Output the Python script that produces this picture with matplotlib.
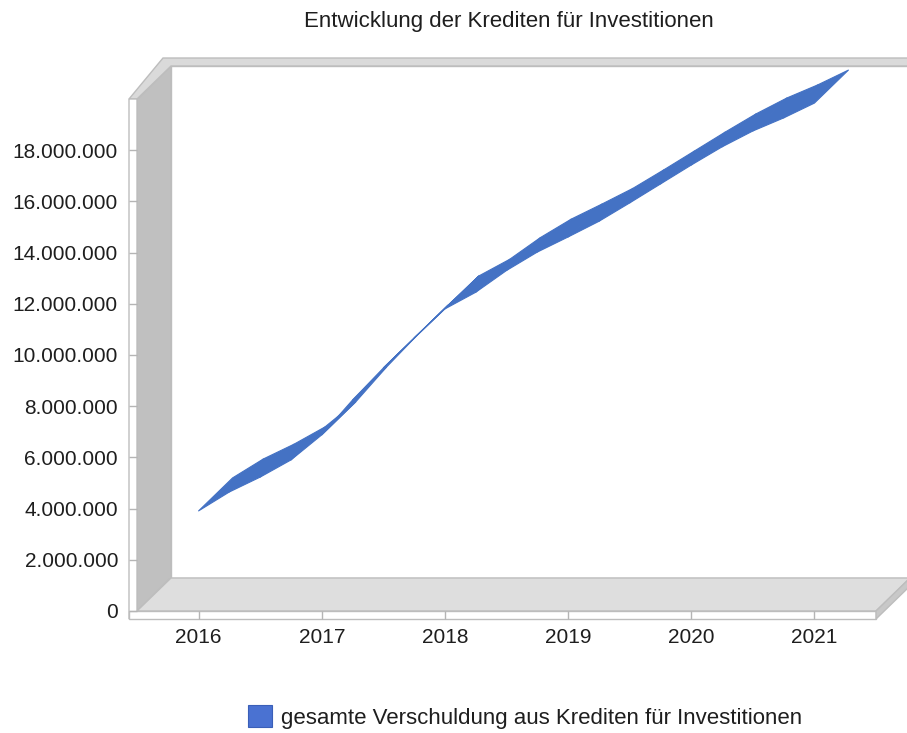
import matplotlib
matplotlib.use("Agg")
import matplotlib.pyplot as plt
from matplotlib.patches import Polygon, Patch
from matplotlib.collections import PolyCollection

# ---------------- data ----------------
title = "Entwicklung der Krediten für Investitionen"
series_name = "gesamte Verschuldung aus Krediten für Investitionen"
years = [2016, 2017, 2018, 2019, 2020, 2021]
time = [2016.0, 2016.25, 2016.5, 2016.75, 2017.0, 2017.25, 2017.5, 2017.75,
        2018.0, 2018.25, 2018.5, 2018.75, 2019.0, 2019.25, 2019.5, 2019.75,
        2020.0, 2020.25, 2020.5, 2020.75, 2021.0]
values = [3.91e6, 4.65e6, 5.23e6, 5.90e6, 6.88e6, 8.24e6, 9.49e6, 10.66e6,
          11.80e6, 12.45e6, 13.30e6, 14.02e6, 14.61e6, 15.22e6, 15.94e6, 16.68e6,
          17.42e6, 18.13e6, 18.75e6, 19.26e6, 19.84e6]
y_ticks = [0, 2e6, 4e6, 6e6, 8e6, 10e6, 12e6, 14e6, 16e6, 18e6]
y_max = 20e6

def de_fmt(v):
    return f"{int(round(v)):,}".replace(",", ".")

# ---------------- figure ----------------
plt.rcParams['font.family'] = ['Liberation Sans', 'DejaVu Sans']
W, H = 907, 733
fig = plt.figure(figsize=(W / 100, H / 100), dpi=100)
fig.patch.set_facecolor('white')

L, R, B, T = 137, 876, 611, 99     # front plane in pixels
DX, DY = 34, 33                    # depth offset in pixels
ax = fig.add_axes([L / W, 1 - B / H, (R - L) / W, (B - T) / H])
ax.set_xlim(years[0] - 0.5, years[-1] + 0.5)
ax.set_ylim(0, y_max)
for s in ax.spines.values():
    s.set_visible(False)
ax.patch.set_alpha(0)

xs = (R - L) / (ax.get_xlim()[1] - ax.get_xlim()[0])   # px per year
ys = (B - T) / y_max                                    # px per unit

def P(px, py):
    """pixel -> data coordinates (for frame decoration)"""
    return (ax.get_xlim()[0] + (px - L) / xs, (B - py) / ys)

ddx, ddy = DX / xs, DY / ys

frame_edge = '#bdbdbd'
def poly(pts, fc, ec=frame_edge, z=1, lw=1.0):
    ax.add_patch(Polygon([P(*p) for p in pts], closed=True, facecolor=fc,
                         edgecolor=ec, lw=lw, zorder=z, clip_on=False))

# back wall
poly([(L + DX, T - DY), (W + 5, T - DY), (W + 5, B - DY), (L + DX, B - DY)], 'white', z=0.5)
# side wall
poly([(L, B), (L + DX, B - DY), (L + DX, T - DY), (L, T)], '#c0c0c0', z=1)
# floor
poly([(L, B), (R, B), (R + DX, B - DY), (L + DX, B - DY)], '#dedede', z=1)
# top rim (thickness of walls)
poly([(129, T), (129 + DX, T - DY - 8), (W + 5, T - DY - 8), (W + 5, T - DY),
      (L + DX, T - DY), (L, T)], '#dadada', z=1.2)
# front face strips
poly([(129, T), (L, T), (L, B), (129, B + 8)], 'white', z=1.3)
poly([(129, B + 8), (129, B), (R, B), (R, B + 8)], 'white', z=1.3)
# right end of floor
poly([(R, B), (R + DX, B - DY), (R + DX, B - DY + 8), (R, B + 8)], '#c8c8c8', z=1.3)

# ---------------- series ribbon ----------------
quads = []
for i in range(len(time) - 1):
    t0, t1 = time[i], time[i + 1]
    v0, v1 = values[i], values[i + 1]
    quads.append([(t0, v0), (t1, v1), (t1 + ddx, v1 + ddy), (t0 + ddx, v0 + ddy)])
ribbon_color = '#4472c4'
pc = PolyCollection(quads, facecolors=ribbon_color, edgecolors=ribbon_color,
                    linewidths=0.8, zorder=3, clip_on=False)
ax.add_collection(pc)

# ---------------- axes ticks ----------------
text_color = '#1e1e1e'
ax.set_yticks(y_ticks, labels=[de_fmt(v) for v in y_ticks])
ax.set_xticks(years, labels=[str(y) for y in years])
ax.tick_params(axis='y', direction='out', length=8 * 0.72, width=1.0,
               color='#b5b5b5', pad=11 * 0.72, labelsize=15, labelcolor=text_color)
ax.tick_params(axis='x', direction='out', length=8 * 0.72, width=1.0,
               color='#b5b5b5', pad=9 * 0.72, labelsize=15, labelcolor=text_color)
for t in ax.xaxis.get_major_ticks() + ax.yaxis.get_major_ticks():
    t.tick1line.set_zorder(5)

# ---------------- title & legend ----------------
fig.text(509 / W, 1 - 22 / H, title, ha='center', va='center',
         fontsize=16, color=text_color)

handle = Patch(facecolor='#4a72d2', edgecolor='#3a5fb8', lw=0.8)
fig.legend([handle], [series_name], loc='center left',
           bbox_to_anchor=(248 / W, 1 - 717 / H), frameon=False,
           fontsize=16, handlelength=1.08, handleheight=1.08,
           handletextpad=0.4, borderpad=0, borderaxespad=0,
           labelcolor=text_color)

fig.savefig('out.png', dpi=100, facecolor='white')
